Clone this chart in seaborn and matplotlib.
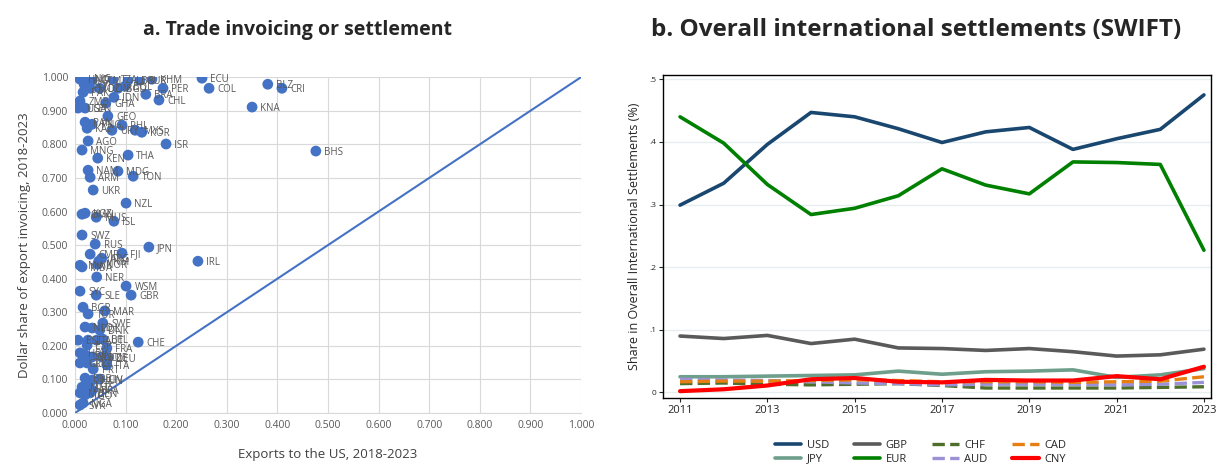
import numpy as np
import pandas as pd
import matplotlib
matplotlib.use("Agg")
import matplotlib.pyplot as plt
from matplotlib.ticker import FormatStrFormatter, FuncFormatter
import seaborn as sns

# ---- panel a: dollar invoicing share vs exports to the US ----
countries = ["HND", "NIC", "GTM", "MOZ", "SLV", "TZA", "LBR", "SUR", "KHM", "ECU",
             "COL", "BLZ", "CRI", "KNA", "PER", "CHL", "BRA", "IDN", "BGD", "BOL",
             "DOM", "ZMB", "GHA", "UGA", "SEN", "PAK", "GEO", "PAN", "KAZ", "PNG",
             "URY", "PHL", "MYS", "KOR", "AGO", "MNG", "KEN", "THA", "ISR", "NAM",
             "ARM", "MDG", "TON", "UKR", "BHS", "NZL", "OMN", "KGZ", "MUS", "ISL",
             "SWZ", "RUS", "JPN", "FJI", "CMR", "ARG", "VNM", "IRL", "MWI", "MDA",
             "NOR", "NER", "WSM", "SYC", "SLE", "GBR", "BGR", "TUR", "MAR", "SWE",
             "NLD", "POL", "DNK", "EST", "LTU", "AUT", "BEL", "CHE", "FRA", "ESP",
             "HRV", "SVN", "ROU", "CZE", "DEU", "GRC", "CYP", "PRT", "ITA", "BRB",
             "HUN", "CIV", "MLT", "LUX", "BFA", "MLI", "TGO", "BEN", "SVK", "NGA"]
us_exports = [0.010, 0.022, 0.034, 0.030, 0.018, 0.075, 0.105, 0.128, 0.152, 0.251,
              0.265, 0.381, 0.409, 0.350, 0.174, 0.166, 0.140, 0.077, 0.085, 0.099,
              0.049, 0.010, 0.061, 0.006, 0.020, 0.016, 0.065, 0.020, 0.024, 0.034,
              0.073, 0.093, 0.119, 0.132, 0.026, 0.014, 0.045, 0.105, 0.180, 0.026,
              0.030, 0.085, 0.115, 0.036, 0.476, 0.101, 0.014, 0.020, 0.042, 0.077,
              0.014, 0.040, 0.146, 0.093, 0.030, 0.053, 0.047, 0.243, 0.010, 0.014,
              0.045, 0.043, 0.101, 0.010, 0.042, 0.111, 0.016, 0.026, 0.059, 0.055,
              0.020, 0.034, 0.049, 0.006, 0.026, 0.043, 0.055, 0.125, 0.063, 0.024,
              0.010, 0.020, 0.034, 0.053, 0.065, 0.010, 0.024, 0.036, 0.063, 0.020,
              0.034, 0.049, 0.014, 0.024, 0.034, 0.010, 0.020, 0.030, 0.010, 0.016]
usd_share = [0.994, 0.997, 0.991, 0.967, 0.979, 0.994, 0.991, 0.991, 0.994, 0.997,
             0.967, 0.979, 0.967, 0.911, 0.967, 0.932, 0.949, 0.940, 0.967, 0.973,
             0.967, 0.929, 0.923, 0.908, 0.908, 0.955, 0.884, 0.866, 0.848, 0.860,
             0.842, 0.857, 0.842, 0.836, 0.810, 0.783, 0.759, 0.768, 0.801, 0.723,
             0.702, 0.720, 0.705, 0.664, 0.780, 0.625, 0.592, 0.595, 0.583, 0.571,
             0.530, 0.503, 0.494, 0.476, 0.473, 0.461, 0.452, 0.452, 0.440, 0.435,
             0.443, 0.405, 0.378, 0.363, 0.351, 0.351, 0.315, 0.295, 0.304, 0.268,
             0.256, 0.253, 0.247, 0.217, 0.217, 0.217, 0.220, 0.211, 0.193, 0.202,
             0.179, 0.173, 0.167, 0.167, 0.164, 0.149, 0.149, 0.131, 0.143, 0.104,
             0.098, 0.101, 0.077, 0.083, 0.068, 0.060, 0.054, 0.060, 0.024, 0.030]
diag = [0.0, 1.0]

# ---- panel b: SWIFT shares ----
years = list(range(2011, 2024))
usd = [0.299, 0.334, 0.396, 0.447, 0.440, 0.421, 0.399, 0.416, 0.423, 0.388, 0.405, 0.420, 0.475]
eur = [0.440, 0.398, 0.332, 0.284, 0.294, 0.314, 0.357, 0.331, 0.317, 0.368, 0.367, 0.364, 0.227]
gbp = [0.090, 0.086, 0.091, 0.078, 0.085, 0.071, 0.070, 0.067, 0.070, 0.065, 0.058, 0.060, 0.069]
jpy = [0.025, 0.025, 0.026, 0.027, 0.028, 0.034, 0.029, 0.033, 0.034, 0.036, 0.024, 0.028, 0.038]
chf = [0.014, 0.015, 0.013, 0.012, 0.013, 0.014, 0.011, 0.007, 0.007, 0.007, 0.007, 0.008, 0.009]
aud = [0.021, 0.020, 0.019, 0.017, 0.015, 0.014, 0.012, 0.013, 0.013, 0.013, 0.012, 0.013, 0.016]
cad = [0.017, 0.018, 0.018, 0.019, 0.020, 0.019, 0.017, 0.017, 0.017, 0.016, 0.017, 0.018, 0.025]
cny = [0.002, 0.005, 0.011, 0.021, 0.023, 0.017, 0.016, 0.020, 0.019, 0.019, 0.026, 0.021, 0.041]

sns.set_style("white")
plt.rcParams["font.family"] = ["Open Sans", "DejaVu Sans"]

fig = plt.figure(figsize=(12.17, 4.65), dpi=100)
ax1 = fig.add_axes([0.0616, 0.1118, 0.4158, 0.7222])
ax2 = fig.add_axes([0.5448, 0.144, 0.4502, 0.695])

blue = "#4472C4"
grey = "#595959"

# scatter
sc = pd.DataFrame({"country": countries, "x": us_exports, "y": usd_share})
sns.lineplot(x=diag, y=diag, ax=ax1, color=blue, linewidth=1.5, zorder=2)
sns.scatterplot(data=sc, x="x", y="y", ax=ax1, color=blue, s=60, edgecolor="none", zorder=3)
for _, r in sc.iterrows():
    ax1.annotate(r["country"], (r["x"], r["y"]), xytext=(6, -1), textcoords="offset points",
                 fontsize=7, color=grey, va="center", ha="left", zorder=4)
ax1.set_xlim(0, 1)
ax1.set_ylim(0, 1)
ax1.set_xticks(np.arange(0, 1.01, 0.1))
ax1.set_yticks(np.arange(0, 1.01, 0.1))
ax1.xaxis.set_major_formatter(FormatStrFormatter("%.3f"))
ax1.yaxis.set_major_formatter(FormatStrFormatter("%.3f"))
ax1.grid(True, color="#d9d9d9", linewidth=0.8)
ax1.set_axisbelow(True)
for s in ax1.spines.values():
    s.set_visible(False)
ax1.spines["bottom"].set_visible(True)
ax1.spines["bottom"].set_color("#d9d9d9")
ax1.tick_params(labelsize=7.5, labelcolor=grey, length=0, pad=5)
ax1.set_xlabel("Exports to the US, 2018-2023", fontsize=9.5, color="#404040", labelpad=12)
ax1.set_ylabel("Dollar share of export invoicing, 2018-2023", fontsize=9.5, color="#404040", labelpad=8)

# SWIFT lines
series = [
    ("USD", usd, "#1a476f", "-", 2.6),
    ("JPY", jpy, "#6e9e8c", "-", 2.6),
    ("GBP", gbp, "#5a5a5a", "-", 2.6),
    ("EUR", eur, "#008000", "-", 2.6),
    ("CHF", chf, "#4e6e2b", "--", 2.4),
    ("AUD", aud, "#9b91d6", "--", 2.4),
    ("CAD", cad, "#e67e12", "--", 2.4),
    ("CNY", cny, "#ff0000", "-", 3.0),
]
for name, vals, col, ls, lw in series:
    sns.lineplot(x=years, y=vals, ax=ax2, color=col, linestyle=ls, linewidth=lw, label=name)

ax2.set_xlim(2010.61, 2023.16)
ax2.set_ylim(-0.009, 0.507)
ax2.set_xticks(range(2011, 2024, 2))
ax2.set_yticks([0, 0.1, 0.2, 0.3, 0.4, 0.5])
ax2.yaxis.set_major_formatter(FuncFormatter(lambda v, p: "0" if v == 0 else f"{v:.1f}".lstrip("0")))
ax2.grid(True, axis="y", color="#e6eef0", linewidth=1.0)
ax2.set_axisbelow(True)
for s in ax2.spines.values():
    s.set_visible(True)
    s.set_color("black")
    s.set_linewidth(1.0)
ax2.tick_params(axis="y", labelsize=6, length=3, pad=2, left=True)
ax2.tick_params(axis="x", labelsize=8, length=3, pad=2, bottom=True)
ax2.set_xlabel("")
ax2.set_ylabel("Share in Overall International Settlements (%)", fontsize=9, labelpad=6)
ax2.legend(loc="upper center", bbox_to_anchor=(0.47, -0.1), ncol=4, frameon=False,
           fontsize=8, handlelength=2.4, columnspacing=2.2, labelspacing=0.2,
           handletextpad=0.5)

fig.text(0.2445, 0.935, "a. Trade invoicing or settlement", ha="center", va="center",
         fontsize=14, fontweight="bold")
fig.text(0.753, 0.935, "b. Overall international settlements (SWIFT)", ha="center",
         va="center", fontsize=17.5, fontweight="bold")

fig.savefig("out.png", dpi=100)
